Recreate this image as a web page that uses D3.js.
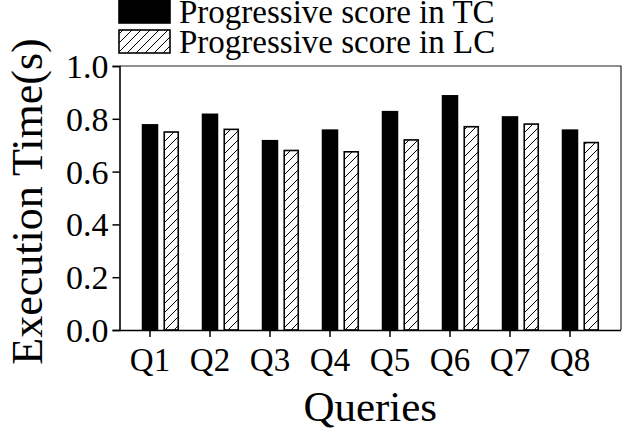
<!DOCTYPE html>
<html>
<head>
<meta charset="utf-8">
<script src="https://cdn.jsdelivr.net/npm/d3@7"></script>
<style>
  html, body { margin: 0; padding: 0; background: #fff; }
  svg { display: block; }
  text { font-family: "Liberation Serif", "Times New Roman", serif; fill: #000; }
</style>
</head>
<body>
<svg id="chart" width="629" height="434"></svg>
<script>
// Query labels and execution times (seconds) for the two scoring modes
const queries = ["Q1", "Q2", "Q3", "Q4", "Q5", "Q6", "Q7", "Q8"];
const tcTimes = [0.78, 0.82, 0.72, 0.76, 0.83, 0.89, 0.81, 0.76];
const lcTimes = [0.75, 0.76, 0.68, 0.675, 0.72, 0.77, 0.78, 0.71];
const seriesNames = ["Progressive score in TC", "Progressive score in LC"];
const yTicks = [0.0, 0.2, 0.4, 0.6, 0.8, 1.0];

const svg = d3.select("#chart");
const plot = { left: 119.5, right: 621, top: 66, bottom: 330 };

// Hatch pattern for the LC bars
const defs = svg.append("defs");
const pat = defs.append("pattern")
  .attr("id", "hatch")
  .attr("patternUnits", "userSpaceOnUse")
  .attr("width", 9).attr("height", 9);
pat.append("rect").attr("width", 9).attr("height", 9).attr("fill", "#fff");
pat.append("path")
  .attr("d", "M-2,2 L2,-2 M0,9 L9,0 M7,11 L11,7")
  .attr("stroke", "#000").attr("stroke-width", 1);

const x = d3.scaleBand().domain(queries).range([120, 600]).padding(0);
const y = d3.scaleLinear().domain([0, 1]).range([plot.bottom, plot.top]);

const barW = 16.5;
const lcOffset = 13.5;
const lcW = 15.5;

// Frame (top and right edges)
svg.append("path")
  .attr("d", `M${plot.left},${plot.top} H${plot.right} V${plot.bottom}`)
  .attr("fill", "none").attr("stroke", "#222").attr("stroke-width", 1.2);

// TC bars (solid)
svg.append("g").selectAll("rect")
  .data(queries)
  .join("rect")
  .attr("x", (d) => x(d) + x.bandwidth() / 2 - barW / 2)
  .attr("y", (d, i) => y(tcTimes[i]))
  .attr("width", barW)
  .attr("height", (d, i) => y(0) - y(tcTimes[i]))
  .attr("fill", "#000");

// LC bars (hatched)
svg.append("g").selectAll("rect")
  .data(queries)
  .join("rect")
  .attr("x", (d) => x(d) + x.bandwidth() / 2 + lcOffset + 0.75)
  .attr("y", (d, i) => y(lcTimes[i]))
  .attr("width", lcW - 1.5)
  .attr("height", (d, i) => y(0) - y(lcTimes[i]))
  .attr("fill", "url(#hatch)")
  .attr("stroke", "#000").attr("stroke-width", 1.6);

// Y axis
const yAxis = svg.append("g")
  .attr("transform", `translate(${plot.left},0)`)
  .call(d3.axisLeft(y).tickValues(yTicks).tickFormat(d3.format(".1f")).tickSize(7).tickPadding(4));
yAxis.select(".domain").attr("stroke", "#000").attr("stroke-width", 1.6);
yAxis.selectAll(".tick line").attr("stroke", "#000").attr("stroke-width", 1.5);
yAxis.selectAll(".tick text")
  .style("font-family", '"Liberation Serif", "Times New Roman", serif')
  .style("font-size", "34px").attr("fill", "#000").attr("dy", "0.34em");

// X axis
const xAxis = svg.append("g")
  .attr("transform", `translate(0,${plot.bottom})`)
  .call(d3.axisBottom(x).tickSize(7).tickPadding(10).tickSizeOuter(0));
xAxis.select(".domain")
  .attr("d", `M${plot.left},0.5H${plot.right}`)
  .attr("stroke", "#000").attr("stroke-width", 1.6);
xAxis.selectAll(".tick line").attr("stroke", "#000").attr("stroke-width", 1.5);
xAxis.selectAll(".tick text")
  .style("font-family", '"Liberation Serif", "Times New Roman", serif')
  .style("font-size", "33px").attr("fill", "#000").attr("dy", "0.72em");

// Axis titles
svg.append("text")
  .attr("x", (plot.left + plot.right) / 2)
  .attr("y", 421)
  .attr("text-anchor", "middle")
  .style("font-size", "43px")
  .text("Queries");

svg.append("text")
  .attr("transform", `translate(42,${(35 + 368) / 2}) rotate(-90)`)
  .attr("text-anchor", "middle")
  .style("font-size", "44px")
  .text("Execution Time(s)");

// Legend
const legend = svg.append("g");
const rows = [
  { name: seriesNames[0], fill: "#000", stroke: "#000", top: 0 },
  { name: seriesNames[1], fill: "url(#hatch)", stroke: "#000", top: 30 }
];
rows.forEach((r) => {
  legend.append("rect")
    .attr("x", 119).attr("y", r.top)
    .attr("width", 51).attr("height", 23)
    .attr("fill", r.fill).attr("stroke", r.stroke).attr("stroke-width", 1.6);
  legend.append("text")
    .attr("x", 179).attr("y", r.top + 23)
    .style("font-size", "33px")
    .text(r.name);
});
</script>
</body>
</html>
